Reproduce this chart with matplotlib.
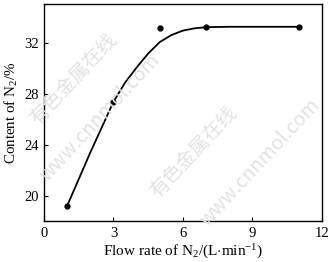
import matplotlib
matplotlib.use("Agg")
import matplotlib.pyplot as plt

# measured data points
flow = [1, 3, 5, 7, 11]
content = [19.2, 27.4, 33.2, 33.3, 33.3]

# fitted curve
curve_x = [1, 2, 3, 3.5, 4.0, 4.5, 5.0, 5.5, 6.0, 6.5, 7.0, 8, 9, 10, 11]
curve_y = [19.2, 23.4, 27.4, 28.9, 30.1, 31.2, 32.1, 32.65, 33.0, 33.18, 33.27, 33.3, 33.3, 33.3, 33.3]

xticks = [0, 3, 6, 9, 12]
yticks = [20, 24, 28, 32]

plt.rcParams['font.family'] = ['Liberation Serif', 'DejaVu Serif']
plt.rcParams['mathtext.fontset'] = 'custom'
plt.rcParams['mathtext.rm'] = 'Liberation Serif'
plt.rcParams['mathtext.it'] = 'Liberation Serif:italic'

fig = plt.figure(figsize=(3.33, 2.62), dpi=100)
ax = fig.add_axes([0.132, 0.156, 0.835, 0.829])

# watermarks
wm = dict(color='#e2e2e2', rotation=47, ha='center', va='center', zorder=0,
          family=['Noto Sans CJK SC', 'DejaVu Sans'])
fig.text(0.22, 0.70, '有色金属在线', fontsize=14, **wm)
fig.text(0.30, 0.55, 'www.cnnmol.com', fontsize=14, **wm)
fig.text(0.58, 0.42, '有色金属在线', fontsize=14, **wm)
fig.text(0.78, 0.38, 'www.cnnmol.com', fontsize=14, **wm)

ax.plot(curve_x, curve_y, color='black', lw=1.3, zorder=3, solid_joinstyle='round')
ax.plot(flow, content, 'o', color='black', ms=3.5, zorder=4)

ax.set_xlim(0, 12)
ax.set_ylim(18.0, 35.1)
ax.set_xticks(xticks)
ax.set_yticks(yticks)
ax.tick_params(direction='in', length=3, width=0.8, labelsize=10.5, pad=4)
for s in ax.spines.values():
    s.set_linewidth(1.0)

ax.set_xlabel('Flow rate of N$_2$/(L$\\cdot$min$^{-1}$)', fontsize=11, labelpad=2)
ax.set_ylabel('Content of N$_2$/%', fontsize=10.8, labelpad=3)
ax.patch.set_alpha(0)

fig.savefig('out.png', dpi=100)
